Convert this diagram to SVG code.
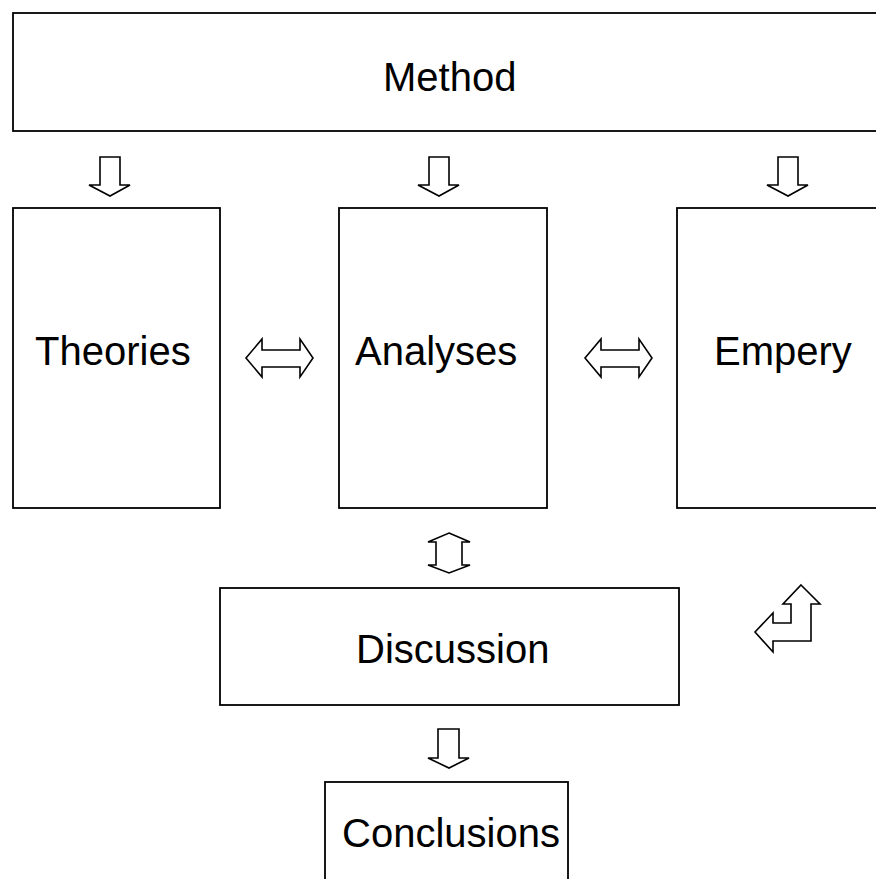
<svg xmlns="http://www.w3.org/2000/svg" width="876" height="879" viewBox="0 0 876 879">
<style>
.box{fill:#fff;stroke:#000;stroke-width:1.8}
.arr{fill:#fff;stroke:#000;stroke-width:1.6;stroke-linejoin:miter}
text{font-family:"Liberation Sans",Arial,sans-serif;font-size:40px;fill:#000}
</style>
<rect width="876" height="879" fill="#fff"/>
<g id="method"><rect class="box" x="13" y="13" width="880" height="118"/><text x="383" y="91">Method</text></g>
<g id="theories"><rect class="box" x="13" y="208" width="207" height="300"/><text x="35" y="365">Theories</text></g>
<g id="analyses"><rect class="box" x="339" y="208" width="208" height="300"/><text x="355" y="365">Analyses</text></g>
<g id="empery"><rect class="box" x="677" y="208" width="220" height="300"/><text x="714" y="365">Empery</text></g>
<g id="discussion"><rect class="box" x="220" y="588" width="459" height="117"/><text x="356" y="663">Discussion</text></g>
<g id="conclusions"><rect class="box" x="325" y="782" width="243" height="120"/><text x="342" y="847">Conclusions</text></g>
<g id="connectors">
<path class="arr" d="M100,157 H120 V185 H130 L110,196 L89,185 H100 Z"/>
<path class="arr" d="M429,157 H449 V185 H459 L439,196 L418,185 H429 Z"/>
<path class="arr" d="M778,157 H798 V185 H808 L788,196 L767,185 H778 Z"/>
<path class="arr" d="M246,358 L262,339 V350 H300 V339 L313,358 L300,377 V367 H262 V377 Z"/>
<path class="arr" d="M585,358 L601,339 V350 H639 V339 L652,358 L639,377 V367 H601 V377 Z"/>
<path class="arr" d="M449,533 L470,542 H462 V565 H470 L449,573 L428,565 H436 V542 H428 Z"/>
<path class="arr" d="M801,585 L820,604 H811 V641 H773 V652 L755,632 L773,613 V623 H791 V604 H783 Z"/>
<path class="arr" d="M438,729 H459 V758 H469 L449,768 L428,758 H438 Z"/>
</g>
</svg>
